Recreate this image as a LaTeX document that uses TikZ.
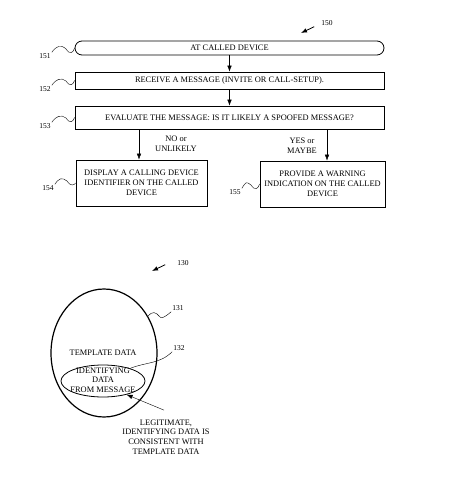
\documentclass[tikz,border=0pt]{standalone}
\usepackage{fontspec}
\setmainfont{Liberation Serif}
\usetikzlibrary{arrows.meta,shapes.geometric}
\begin{document}
\begin{tikzpicture}[x=1pt, y=-1pt, >={Latex[length=6pt,width=4.5pt]},
    every node/.style = {font=\fontsize{8.4}{10}\selectfont},
    box/.style = {draw, rectangle, line width=0.8pt, inner sep=0pt, align=center},
    oval/.style = {draw, ellipse, line width=1.2pt, inner sep=0pt},
    ref/.style = {inner sep=1pt, font=\fontsize{7.5}{9}\selectfont}]
    \useasboundingbox (0,0) rectangle (452,500);
    \node[box, rounded corners=7pt, minimum width=309pt, minimum height=14pt] (151) at (229.5,48) {AT CALLED DEVICE};
    \node[box, minimum width=309pt, minimum height=17pt] (152) at (229.5,80.5) {RECEIVE A MESSAGE (INVITE OR CALL-SETUP).};
    \node[box, minimum width=309pt, minimum height=23pt] (153) at (229.5,117.5) {EVALUATE THE MESSAGE: IS IT LIKELY A SPOOFED MESSAGE?};
    \node[box, minimum width=131pt, minimum height=46pt] (154) at (141.5,183) {DISPLAY A CALLING DEVICE\\IDENTIFIER ON THE CALLED\\DEVICE};
    \node[box, minimum width=125pt, minimum height=46pt] (155) at (322.5,184) {PROVIDE A WARNING\\INDICATION ON THE CALLED\\DEVICE};
    \node[align=center] (no) at (176,143.5) {NO or\\UNLIKELY};
    \node[align=center] (yes) at (302,146) {YES or\\MAYBE};
    %
    \node[ref] (l150) at (327,23) {150};
    \node[ref] (l151) at (45,56) {151};
    \node[ref] (l152) at (45,89) {152};
    \node[ref] (l153) at (45,126) {153};
    \node[ref] (l154) at (48,188) {154};
    \node[ref] (l155) at (235,192) {155};
    \coordinate (p150) at (301,33);
    %
    \draw[->] (151) -- (152);
    \draw[->] (152) -- (153);
    \draw[->] ([xshift=-2.5pt]154.north |- 153.south) -- ([xshift=-2.5pt]154.north);
    \draw[->] ([xshift=4.5pt]155.north |- 153.south) -- ([xshift=4.5pt]155.north);
    \draw[->, line width=0.8pt] ([xshift=-6pt]l150.south west) -- (p150);
    %
    \draw (l151.north east) .. controls +(4,-6) and (61,44) .. (66,49) .. controls (70,55) and (73,53) .. (151.west);
    \draw (l152.north east) .. controls +(4,-6) and (61,77) .. (66,81) .. controls (70,87) and (73,85) .. (152.west);
    \draw (l153.north east) .. controls +(4,-6) and (61,114) .. (66,118) .. controls (70,124) and (73,122) .. (153.west);
    \draw (l154.north east) .. controls +(4,-6) and (62,177) .. (67,181) .. controls (71,187) and (74,185) .. (154.west);
    \draw (l155.north east) .. controls +(4,-6) and (246,181) .. (251,185) .. controls (255,191) and (258,189) .. (155.west);
    %
    \node[oval, minimum width=106pt, minimum height=128pt] (131) at (104,353) {};
    \node[oval, line width=0.8pt, minimum width=84pt, minimum height=32pt] (132) at (103,381) {};
    \node (tmpl) at (103,353) {TEMPLATE DATA};
    \node[align=center, font=\fontsize{8.4}{9.5}\selectfont] (idata) at (103,380) {IDENTIFYING\\DATA\\FROM MESSAGE};
    \node[align=center, font=\fontsize{8.4}{9.7}\selectfont] (legit) at (166,437) {LEGITIMATE,\\IDENTIFYING DATA IS\\CONSISTENT WITH\\TEMPLATE DATA};
    \node[ref] (l130) at (183,263) {130};
    \node[ref] (l131) at (178,308) {131};
    \node[ref] (l132) at (179,348) {132};
    \coordinate (p130) at (152,271);
    %
    \draw[->, line width=0.8pt] ([xshift=-11pt,yshift=2pt]l130.south west) -- (p130);
    \draw (131.40) .. controls (152,311) and (156,312) .. (159,316) .. controls (161,319) and (164,318) .. (l131.south west);
    \draw (132.25) .. controls (146,362) and (160,364) .. (l132.south west);
    \draw[->] ([xshift=-2pt,yshift=6pt]legit.north) -- (132.-30);
\end{tikzpicture}
\end{document}
